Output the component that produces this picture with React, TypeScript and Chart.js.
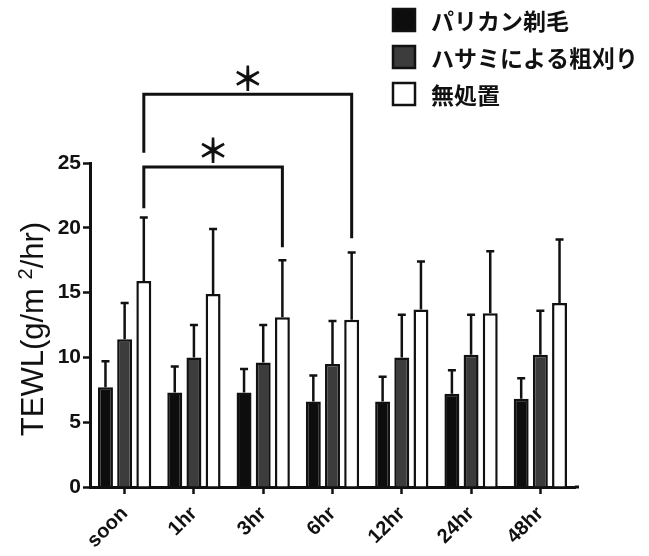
import React, { useEffect, useRef } from 'react';
import { Chart, registerables } from 'chart.js';

Chart.register(...registerables);

const categories = ['soon', '1hr', '3hr', '6hr', '12hr', '24hr', '48hr'];
const seriesNames = ['パリカン剃毛', 'ハサミによる粗刈り', '無処置'];
const clipperMean = [7.7, 7.3, 7.3, 6.6, 6.6, 7.2, 6.8];
const clipperSD = [2.0, 2.0, 1.8, 2.0, 1.9, 1.8, 1.6];
const scissorsMean = [11.4, 10.0, 9.6, 9.5, 10.0, 10.2, 10.2];
const scissorsSD = [2.8, 2.5, 2.9, 3.3, 3.3, 3.1, 3.4];
const untreatedMean = [15.9, 14.9, 13.1, 12.9, 13.7, 13.4, 14.2];
const untreatedSD = [4.9, 5.0, 4.4, 5.2, 3.7, 4.8, 4.9];
const yTicks = [0, 5, 10, 15, 20, 25];
// y-axis title: base text, superscript, remaining text
const yTitleParts = ['TEWL(g/m ', '2', '/hr)'];

// significance brackets (between the untreated bars)
const bracketFrom = [0, 0];
const bracketTo = [3, 2];
const bracketLevel = [30.3, 24.7];
const bracketLeftEnd = [25.8, 21.5];
const bracketRightEnd = [19.2, 18.5];
const bracketLabel = ['＊', '＊'];

const sdList = [clipperSD, scissorsSD, untreatedSD];
const fills = ['#0d0d0d', '#3c3c3c', '#ffffff'];
const INK = '#111111';

const overlayPlugin = {
  id: 'overlay',
  afterDatasetsDraw(chart: any) {
    const ctx = chart.ctx as CanvasRenderingContext2D;
    const ys = chart.scales.y;
    ctx.save();
    // error bars (upper only)
    ctx.strokeStyle = INK;
    ctx.lineWidth = 2.5;
    ctx.lineCap = 'butt';
    sdList.forEach((sd, di) => {
      const meta = chart.getDatasetMeta(di);
      meta.data.forEach((bar: any, i: number) => {
        const v = chart.data.datasets[di].data[i] as number;
        const yb = ys.getPixelForValue(v);
        const yt = ys.getPixelForValue(v + sd[i]);
        ctx.beginPath();
        ctx.moveTo(bar.x, yb);
        ctx.lineTo(bar.x, yt);
        ctx.moveTo(bar.x - 4, yt);
        ctx.lineTo(bar.x + 4, yt);
        ctx.stroke();
      });
    });
    // brackets
    const wMeta = chart.getDatasetMeta(2);
    ctx.lineWidth = 3;
    ctx.lineJoin = 'miter';
    bracketFrom.forEach((f, k) => {
      const x1 = wMeta.data[f].x;
      const x2 = wMeta.data[bracketTo[k]].x;
      const yl = ys.getPixelForValue(bracketLevel[k]);
      ctx.beginPath();
      ctx.moveTo(x1, ys.getPixelForValue(bracketLeftEnd[k]));
      ctx.lineTo(x1, yl);
      ctx.lineTo(x2, yl);
      ctx.lineTo(x2, ys.getPixelForValue(bracketRightEnd[k]));
      ctx.stroke();
      ctx.fillStyle = INK;
      ctx.font = 'bold 33px "Noto Sans CJK JP"';
      ctx.textAlign = 'center';
      ctx.textBaseline = 'middle';
      ctx.fillText(bracketLabel[k], (x1 + x2) / 2, yl - 16);
    });
    // x axis line extension past the last category
    const xs = chart.scales.x;
    ctx.lineWidth = 3;
    ctx.beginPath();
    ctx.moveTo(xs.right, xs.top);
    ctx.lineTo(xs.right + 4, xs.top);
    ctx.stroke();
    // y-axis title with superscript
    const big = '31px "Liberation Sans"';
    const small = '20px "Liberation Sans"';
    ctx.font = big;
    const w0 = ctx.measureText(yTitleParts[0]).width;
    const w2 = ctx.measureText(yTitleParts[2]).width;
    ctx.font = small;
    const w1 = ctx.measureText(yTitleParts[1]).width;
    const total = w0 + w1 + w2;
    const cy = (ys.top + ys.bottom) / 2 + 4;
    ctx.save();
    ctx.translate(43, cy);
    ctx.rotate(-Math.PI / 2);
    ctx.fillStyle = INK;
    ctx.textAlign = 'left';
    ctx.textBaseline = 'alphabetic';
    let x = -total / 2;
    ctx.font = big;
    ctx.fillText(yTitleParts[0], x, 0);
    x += w0;
    ctx.font = small;
    ctx.fillText(yTitleParts[1], x, -11);
    x += w1;
    ctx.font = big;
    ctx.fillText(yTitleParts[2], x, 0);
    ctx.restore();
    // legend
    chart.data.datasets.forEach((ds: any, i: number) => {
      const cy2 = 20 + 37 * i;
      ctx.fillStyle = ds.backgroundColor;
      ctx.fillRect(393, cy2 - 11, 22, 22);
      ctx.strokeStyle = INK;
      ctx.lineWidth = 2.5;
      ctx.strokeRect(393, cy2 - 11, 22, 22);
      ctx.fillStyle = INK;
      ctx.font = 'bold 23px "Noto Sans CJK JP"';
      ctx.textAlign = 'left';
      ctx.textBaseline = 'middle';
      ctx.fillText(ds.label, 431, cy2 + 1);
    });
    ctx.restore();
  },
};

export default function App() {
  const ref = useRef<HTMLCanvasElement>(null);
  useEffect(() => {
    const chart = new Chart(ref.current as HTMLCanvasElement, {
      type: 'bar',
      data: {
        labels: categories,
        datasets: [clipperMean, scissorsMean, untreatedMean].map((d, i) => ({
          label: seriesNames[i],
          data: d,
          backgroundColor: fills[i],
          borderColor: INK,
          borderWidth: 2.5,
          categoryPercentage: 0.83,
          barPercentage: 0.78,
        })),
      },
      options: {
        responsive: false,
        animation: false,
        devicePixelRatio: 1,
        layout: { padding: { top: 163, right: 74, left: 0, bottom: 0 } },
        plugins: { legend: { display: false }, tooltip: { enabled: false } },
        scales: {
          x: {
            afterFit: (s: any) => { s.height = 69; },
            grid: {
              display: true,
              offset: false,
              drawOnChartArea: false,
              drawTicks: true,
              tickLength: 7,
              tickWidth: 2.5,
              tickColor: INK,
            },
            border: { display: true, color: INK, width: 3 },
            ticks: {
              autoSkip: false,
              minRotation: 45,
              maxRotation: 45,
              padding: 8,
              color: INK,
              font: { family: 'Liberation Sans', size: 20, weight: 'bold' },
            },
          },
          y: {
            min: 0,
            max: 25,
            afterFit: (s: any) => { s.width = 90; },
            afterBuildTicks: (s: any) => { s.ticks = yTicks.map((v) => ({ value: v })); },
            grid: {
              display: true,
              drawOnChartArea: false,
              drawTicks: true,
              tickLength: 7,
              tickWidth: 2.5,
              tickColor: INK,
            },
            border: { display: true, color: INK, width: 3 },
            ticks: {
              padding: 2,
              color: INK,
              font: { family: 'Liberation Sans', size: 21, weight: 'bold' },
            },
            title: { display: false },
          },
        },
      },
      plugins: [overlayPlugin],
    } as any);
    return () => chart.destroy();
  }, []);
  return (
    <div style={{ position: 'fixed', left: 0, top: 0, width: 649, height: 556, background: '#fff' }}>
      <canvas ref={ref} width={649} height={556} style={{ display: 'block' }} />
    </div>
  );
}
